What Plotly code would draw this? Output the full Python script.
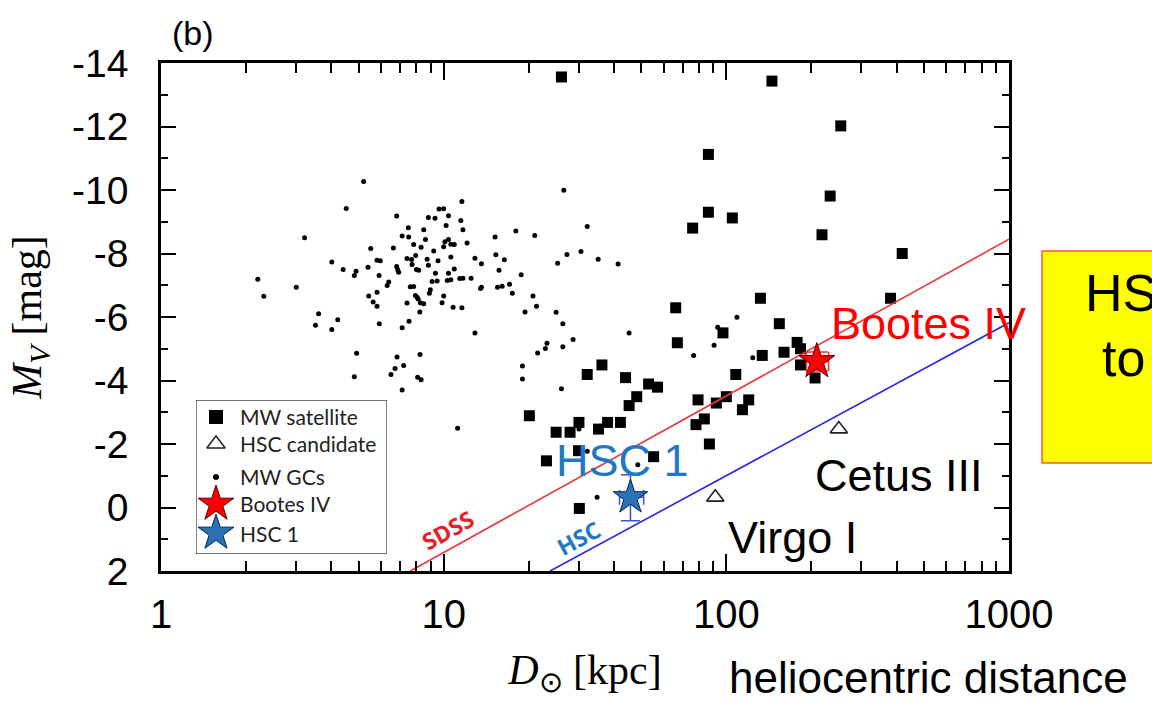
import numpy as np
import plotly.graph_objects as go

# Milky Way globular clusters: heliocentric distance [kpc], absolute magnitude M_V
gc_dist = [5.21, 4.52, 3.22, 11.6, 6.82, 8.83, 9.32, 9.63, 10.0, 10.4,
           11.5, 7.50, 8.50, 7.13, 7.52, 10.2, 11.7, 18.0, 21.0, 15.2,
           8.62, 10.1, 10.4, 10.6, 10.9, 12.1, 7.83, 8.32, 6.64, 5.52,
           9.22, 10.0, 4.02, 5.81, 5.97, 7.42, 7.70, 7.96, 8.74, 9.55,
           10.6, 12.9, 13.6, 15.3, 16.4, 7.73, 8.83, 5.40, 6.82, 6.88,
           6.93, 8.01, 8.16, 10.9, 4.41, 4.90, 4.83, 5.91, 9.35, 9.10,
           9.48, 10.4, 10.3, 10.6, 11.4, 11.7, 12.5, 15.7, 18.8, 2.20,
           2.31, 3.01, 6.39, 6.31, 7.62, 7.83, 8.97, 8.90, 13.6, 13.5,
           15.5, 16.1, 17.1, 17.5, 5.81, 5.43, 7.94, 8.05, 8.12, 8.27,
           8.50, 10.0, 9.87, 10.8, 11.6, 5.63, 5.81, 7.42, 8.23, 20.7,
           21.3, 19.4, 3.61, 3.52, 4.02, 4.22, 5.92, 7.54, 7.13, 12.9,
           23.2, 22.9, 21.5, 4.92, 6.84, 8.25, 7.22, 6.73, 6.51, 4.83,
           8.09, 8.32, 7.13, 19.0, 19.0, 11.2, 26.6, 32.2, 27.3, 30.6,
           25.3, 35.2, 41.4, 25.0, 26.4, 28.7, 26.4, 45.3, 26.1, 109,
           93.2, 90.5, 76.6, 124, 30.1, 34.9, 48.6, 32.2]
gc_mag = [-10.27, -9.42, -8.50, -9.64, -9.18, -9.13, -9.11, -9.40, -9.41, -9.19,
          -9.04, -8.81, -8.75, -8.55, -8.52, -8.88, -8.75, -8.71, -8.57, -8.52,
          -8.44, -8.37, -8.44, -8.29, -8.28, -8.33, -8.28, -8.20, -8.17, -8.16,
          -8.08, -8.21, -7.73, -7.79, -7.77, -7.84, -7.81, -7.94, -7.82, -7.77,
          -7.89, -7.85, -7.68, -7.96, -7.80, -7.65, -7.63, -7.57, -7.59, -7.49,
          -7.41, -7.50, -7.47, -7.51, -7.50, -7.44, -7.31, -7.31, -7.38, -7.12,
          -7.13, -7.38, -7.15, -7.17, -7.21, -7.22, -7.22, -7.47, -7.33, -7.19,
          -6.65, -6.94, -7.10, -6.99, -6.95, -6.96, -6.86, -6.75, -6.94, -6.90,
          -6.94, -6.97, -7.03, -6.75, -6.78, -6.66, -6.68, -6.62, -6.57, -6.45,
          -6.42, -6.66, -6.45, -6.31, -6.29, -6.47, -6.34, -6.44, -6.16, -6.66,
          -6.34, -6.16, -6.10, -5.74, -5.61, -5.91, -5.79, -5.87, -5.66, -5.50,
          -5.17, -5.01, -4.87, -4.86, -4.74, -4.82, -4.47, -4.38, -4.19, -4.12,
          -4.10, -4.02, -3.70, -4.46, -4.05, -2.50, -9.99, -8.85, -7.97, -8.06,
          -7.69, -7.82, -7.67, -6.15, -5.79, -5.29, -5.06, -5.50, -3.74, -5.99,
          -5.68, -5.11, -4.79, -4.72, -2.47, -0.32, -1.35, -1.77]

# Milky Way satellite galaxies
sat_dist = [26.1, 145, 254, 86.4, 233, 86.4, 105, 76.0, 218, 419,
            66.2, 132, 381, 154, 67.1, 97.3, 178, 183, 160, 134,
            183, 206, 108, 36.3, 32.2, 44.0, 53.1, 57.1, 48.2, 45.3,
            79.4, 100, 92.2, 120, 114, 20.1, 30.1, 25.0, 28.0, 35.3,
            38.0, 42.2, 83.6, 78.1, 87.1, 55.3, 30.2, 30.0, 23.1]
sat_mag = [-13.56, -13.43, -12.02, -11.12, -9.81, -9.30, -9.12, -8.80, -8.59, -8.00,
           -6.29, -6.59, -6.59, -5.79, -5.19, -5.50, -5.20, -5.00, -4.89, -4.79,
           -4.49, -4.08, -4.19, -4.49, -4.19, -4.09, -3.89, -3.79, -3.49, -3.21,
           -3.39, -3.49, -3.29, -3.39, -3.08, -2.89, -2.68, -2.37, -2.37, -2.47,
           -2.68, -2.68, -2.79, -2.61, -2.00, -1.60, 0.03, -1.79, -1.47]

# HSC candidates
cand_names = ["Virgo I", "Cetus III"]
cand_dist = [91.4, 250]
cand_mag = [-0.32, -2.47]

# Bootes IV and HSC 1 with their uncertainties
boo_dist, boo_dist_lo, boo_dist_hi = 209, 17, 21
boo_mag, boo_mag_err = -4.6, 0.3
hsc1_dist, hsc1_dist_lo, hsc1_dist_hi = 45.8, 3.9, 5.2
hsc1_mag, hsc1_mag_up, hsc1_mag_down = -0.32, 0.71, 0.74

# Detection limits of the two surveys
sdss_lim_dist = [7.62, 1000]
sdss_lim_mag = [2.0, -8.45]
hsc_lim_dist = [23.8, 1000]
hsc_lim_mag = [2.0, -5.82]

# Axis ticks
x_ticks = [1, 10, 100, 1000]
x_ticktext = ["1", "10", "100", "1000"]
y_ticks = [-14, -12, -10, -8, -6, -4, -2, 0, 2]
y_ticktext = ["-14", "-12", "-10", "-8", "-6", "-4", "-2", "0", "2"]

legend_labels = ["MW satellite", "HSC candidate", "MW GCs", "Bootes IV", "HSC 1"]

SANS = "Liberation Sans, Arial, sans-serif"
SERIF = "Liberation Serif, Times New Roman, serif"
RED = "#ff0000"
HSC_BLUE = "#1f78c4"

fig = go.Figure()

fig.add_trace(go.Scatter(x=gc_dist, y=gc_mag, mode="markers", name="MW GCs",
                         marker=dict(symbol="circle", size=5, color="black")))
fig.add_trace(go.Scatter(x=sat_dist, y=sat_mag, mode="markers", name="MW satellite",
                         marker=dict(symbol="square", size=11, color="black")))
fig.add_trace(go.Scatter(x=sdss_lim_dist, y=sdss_lim_mag, mode="lines", name="SDSS",
                         line=dict(color="#e8363c", width=1.6)))
fig.add_trace(go.Scatter(x=hsc_lim_dist, y=hsc_lim_mag, mode="lines", name="HSC",
                         line=dict(color="#2525ee", width=1.6)))
fig.add_trace(go.Scatter(x=cand_dist, y=cand_mag, mode="markers", name="HSC candidate",
                         text=cand_names,
                         marker=dict(symbol="triangle-up-open", size=15, color="#222222",
                                     line=dict(width=1.6))))
fig.add_trace(go.Scatter(
    x=[hsc1_dist], y=[hsc1_mag], mode="markers", name="HSC 1",
    error_x=dict(type="data", symmetric=False, array=[hsc1_dist_hi], arrayminus=[hsc1_dist_lo],
                 color="#3b4fe0", thickness=1.5, width=7.5),
    error_y=dict(type="data", symmetric=False, array=[hsc1_mag_down], arrayminus=[hsc1_mag_up],
                 color="#3b4fe0", thickness=1.5, width=9.5),
    marker=dict(symbol="star", size=26, color="#2a72b8", line=dict(color="#0b2450", width=1))))
fig.add_trace(go.Scatter(
    x=[boo_dist], y=[boo_mag], mode="markers", name="Bootes IV",
    error_x=dict(type="data", symmetric=False, array=[boo_dist_hi], arrayminus=[boo_dist_lo],
                 color="#ff2a2a", thickness=1.5, width=9.5),
    error_y=dict(type="data", array=[boo_mag_err], color="#ff2a2a", thickness=1.5, width=11),
    marker=dict(symbol="star", size=27, color=RED, line=dict(color="#5a0000", width=1))))

# Legend box drawn on its own small pixel-like axes
LEG_W, LEG_H = 191, 154
row_y = [17, 44, 77, 104, 133]
key_x = 20
key_styles = [
    dict(symbol="square", size=14, color="black"),
    dict(symbol="triangle-up-open", size=16, color="#222222", line=dict(width=1.5)),
    dict(symbol="circle", size=6, color="black"),
    dict(symbol="star", size=27, color=RED, line=dict(color="#5a0000", width=1)),
    dict(symbol="star", size=27, color="#2a72b8", line=dict(color="#0b2450", width=1)),
]
for ry, style in zip(row_y, key_styles):
    fig.add_trace(go.Scatter(x=[key_x], y=[ry], mode="markers", marker=style,
                             xaxis="x2", yaxis="y2", hoverinfo="skip"))

annotations = []
for ry, label in zip(row_y, legend_labels):
    annotations.append(dict(x=42, y=ry, xref="x2", yref="y2", text=label, showarrow=False,
                            xanchor="left", yanchor="middle",
                            font=dict(family="Lato, Open Sans, sans-serif", size=21, color="#222222")))

# Object labels next to their markers
annotations += [
    dict(x=np.log10(boo_dist), y=boo_mag, text="Bootes IV", showarrow=False,
         xshift=112, yshift=38, font=dict(family=SANS, size=45, color=RED)),
    dict(x=np.log10(hsc1_dist), y=hsc1_mag, text="HSC 1", showarrow=False,
         xshift=-8, yshift=37, font=dict(family=SANS, size=45, color=HSC_BLUE)),
    dict(x=np.log10(cand_dist[1]), y=cand_mag[1], text=cand_names[1], showarrow=False,
         xshift=60, yshift=-46, font=dict(family=SANS, size=45, color="black")),
    dict(x=np.log10(cand_dist[0]), y=cand_mag[0], text=cand_names[0], showarrow=False,
         xshift=77, yshift=-40, font=dict(family=SANS, size=45, color="black")),
]

# Survey names written along the limit lines
def on_line(dist_pts, mag_pts, d):
    lx = np.log10(dist_pts)
    return float(np.interp(np.log10(d), lx, mag_pts))

annotations += [
    dict(x=np.log10(10.3), y=on_line(sdss_lim_dist, sdss_lim_mag, 10.3), text="<b>SDSS</b>",
         showarrow=False, textangle=-29, yshift=21,
         font=dict(family="Open Sans, sans-serif", size=23, color="#e8202a")),
    dict(x=np.log10(30.0), y=on_line(hsc_lim_dist, hsc_lim_mag, 30.0), text="<b>HSC</b>",
         showarrow=False, textangle=-28, yshift=18,
         font=dict(family="Open Sans, sans-serif", size=23, color=HSC_BLUE)),
]

# Panel tag, side note and the boxed remark at the right edge
annotations += [
    dict(x=0.0377, y=1.059, xref="paper", yref="paper", text="(b)", showarrow=False,
         xanchor="center", yanchor="middle",
         font=dict(family=SANS, size=34, color="black")),
    dict(x=0.9045, y=-0.209, xref="paper", yref="paper", text="heliocentric distance",
         xanchor="center", yanchor="middle",
         showarrow=False, font=dict(family=SANS, size=44, color="black")),
    dict(x=1.0873, y=0.547, xref="paper", yref="paper", text="HSC", showarrow=False,
         xanchor="left", yanchor="middle", font=dict(family=SANS, size=52, color="black")),
    dict(x=1.1073, y=0.419, xref="paper", yref="paper", text="to", showarrow=False,
         xanchor="left", yanchor="middle", font=dict(family=SANS, size=52, color="black")),
]

shapes = [
    dict(type="rect", xref="x2", yref="y2", x0=0, x1=LEG_W, y0=0, y1=LEG_H,
         line=dict(color="#444444", width=1.3), fillcolor="white", layer="below"),
    dict(type="rect", xref="paper", yref="paper", x0=1.0389, x1=1.35, y0=0.2126, y1=0.63,
         line=dict(color="red", width=1), fillcolor="#ffff00"),
]

axis_common = dict(showline=True, linewidth=2.5, linecolor="black", mirror="ticks",
                   ticks="inside", tickwidth=2, tickcolor="black", showgrid=False,
                   zeroline=False)

fig.update_layout(
    width=1152, height=703,
    margin=dict(l=161, r=143, t=63, b=132),
    paper_bgcolor="white", plot_bgcolor="white",
    showlegend=False,
    font=dict(family=SANS, color="black"),
    xaxis=dict(type="log", range=[0, 3], tickvals=x_ticks, ticktext=x_ticktext,
               ticklen=17, tickfont=dict(size=40), ticklabelstandoff=6,
               minor=dict(ticks="inside", ticklen=10, tickwidth=2, tickcolor="black",
                          dtick="D1", showgrid=False),
               title=dict(text="<i>D</i><sub>⊙</sub> [kpc]", standoff=20,
                          font=dict(family=SERIF, size=42)),
               **axis_common),
    yaxis=dict(range=[2, -14], tickvals=y_ticks, ticktext=y_ticktext,
               ticklen=15, tickfont=dict(size=39), ticklabelstandoff=22,
               minor=dict(ticks="inside", ticklen=7, tickwidth=2, tickcolor="black",
                          tickmode="linear", tick0=0, dtick=1, showgrid=False),
               title=dict(text="<i>M</i><sub><i>V</i></sub> [mag]", standoff=18,
                          font=dict(family=SERIF, size=42)),
               **axis_common),
    xaxis2=dict(domain=[(196 - 161) / 848, (196 + LEG_W - 161) / 848], anchor="y2",
                range=[0, LEG_W], visible=False, fixedrange=True),
    yaxis2=dict(domain=[(571 - 400 - LEG_H) / 508, (571 - 400) / 508], anchor="x2",
                range=[LEG_H, 0], visible=False, fixedrange=True),
    annotations=annotations,
    shapes=shapes,
)

fig.write_html("out.html")
